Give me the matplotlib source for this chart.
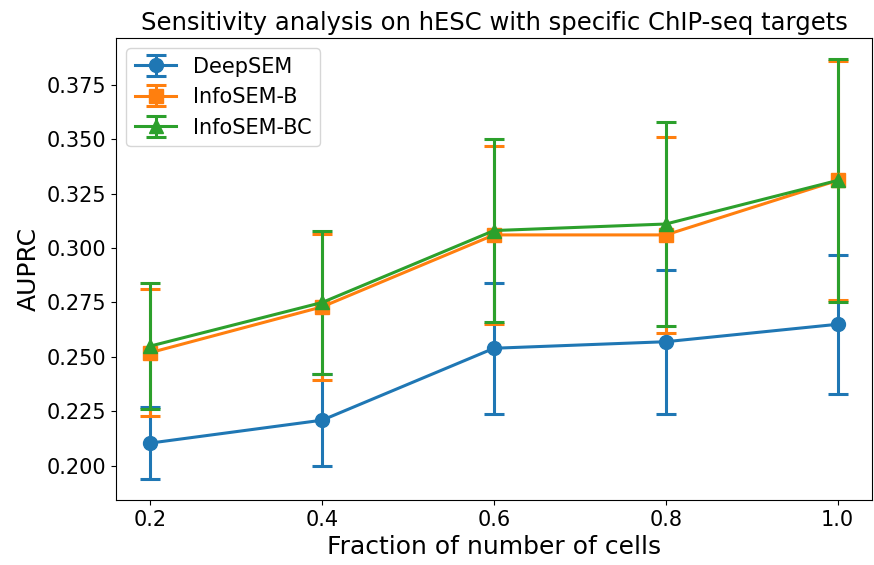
import numpy as np
import matplotlib.pyplot as plt

fractions = [0.2, 0.4, 0.6, 0.8, 1.0]

deepsem_mean = [0.2105, 0.221, 0.254, 0.257, 0.265]
deepsem_err = [0.0165, 0.021, 0.030, 0.033, 0.032]

infosem_b_mean = [0.252, 0.273, 0.306, 0.306, 0.331]
infosem_b_err = [0.029, 0.0335, 0.041, 0.045, 0.055]

infosem_bc_mean = [0.255, 0.275, 0.308, 0.311, 0.331]
infosem_bc_err = [0.029, 0.033, 0.042, 0.047, 0.0557]

fig, ax = plt.subplots(figsize=(8.74, 5.65), dpi=100)
fig.subplots_adjust(left=0.1327, right=0.9977, top=0.9327, bottom=0.115)

style = dict(lw=2.2, ms=10, capsize=7.5, elinewidth=2.2, capthick=2.2)
ax.errorbar(fractions, deepsem_mean, yerr=deepsem_err, fmt='-o', color='#1f77b4',
            label='DeepSEM', **style)
ax.errorbar(fractions, infosem_b_mean, yerr=infosem_b_err, fmt='-s', color='#ff7f0e',
            label='InfoSEM-B', **style)
ax.errorbar(fractions, infosem_bc_mean, yerr=infosem_bc_err, fmt='-^', color='#2ca02c',
            label='InfoSEM-BC', **style)

ax.set_xticks(fractions)
ax.set_yticks(np.arange(0.2, 0.3751, 0.025))
ax.tick_params(labelsize=15)
ax.set_xlabel('Fraction of number of cells', fontsize=18)
ax.set_ylabel('AUPRC', fontsize=18)
ax.set_title('Sensitivity analysis on hESC with specific ChIP-seq targets', fontsize=17.5)
ax.legend(loc='upper left', fontsize=15)

plt.savefig('out.png', dpi=100)
